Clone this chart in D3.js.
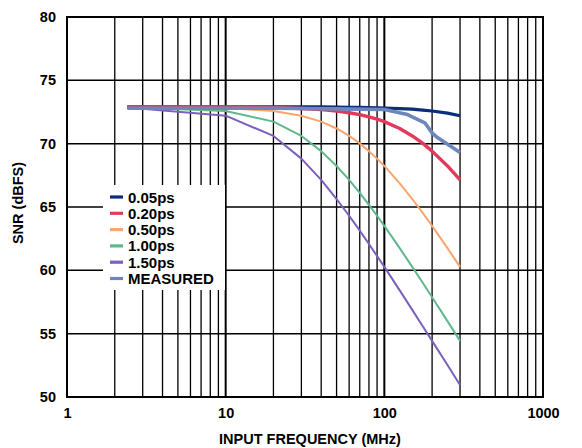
<!DOCTYPE html>
<html>
<head>
<meta charset="utf-8">
<script src="https://cdn.jsdelivr.net/npm/d3@7"></script>
<style>
  html, body { margin: 0; padding: 0; background: #fff; }
  svg { display: block; }
  text { font-family: "Liberation Sans", Arial, sans-serif; font-weight: bold; fill: #000; }
</style>
</head>
<body>
<svg id="chart" width="582" height="448"></svg>
<script>
// ---- data ----
const freqs = [2.4, 10, 20, 30, 40, 50, 60, 70, 80, 90, 100, 125, 150, 175, 200, 250, 300];
const snr005 = [72.9, 72.9, 72.9, 72.9, 72.9, 72.88, 72.87, 72.86, 72.84, 72.82, 72.8, 72.77, 72.72, 72.65, 72.58, 72.41, 72.2];
const snr020 = [72.9, 72.89, 72.85, 72.78, 72.69, 72.58, 72.44, 72.29, 72.12, 71.94, 71.74, 71.2, 70.61, 70.02, 69.41, 68.24, 67.14];
const snr050 = [72.9, 72.82, 72.58, 72.21, 71.74, 71.2, 70.61, 70.02, 69.41, 68.82, 68.24, 66.87, 65.63, 64.52, 63.51, 61.75, 60.27];
const snr100 = [72.88, 72.58, 71.74, 70.61, 69.41, 68.24, 67.14, 66.11, 65.17, 64.31, 63.51, 61.75, 60.27, 59.0, 57.88, 55.99, 54.43];
const snr150 = [72.86, 72.21, 70.61, 68.82, 67.14, 65.63, 64.31, 63.13, 62.08, 61.13, 60.27, 58.42, 56.88, 55.57, 54.43, 52.52, 50.95];
const measFreqs = [2.4, 10, 20, 50, 100, 140, 180, 200, 215, 300];
const measSnr = [72.8, 72.8, 72.8, 72.75, 72.7, 72.3, 71.65, 70.85, 70.5, 69.3];

const seriesNames = ["0.05ps", "0.20ps", "0.50ps", "1.00ps", "1.50ps", "MEASURED"];
const seriesColors = ["#0b2d7c", "#e33a5c", "#f8a56e", "#5fb78c", "#7d5fbc", "#6d87bb"];
const seriesWidths = [3.2, 3.4, 2, 2, 2, 3.6];

const yTicks = [50, 55, 60, 65, 70, 75, 80];
const xTickLabels = [1, 10, 100, 1000];
const xTitle = "INPUT FREQUENCY (MHz)";
const yTitle = "SNR (dBFS)";

// ---- layout ----
const svg = d3.select("#chart");
const pLeft = 67, pRight = 543, pTop = 17, pBottom = 397;

const x = d3.scaleLog().domain([1, 1000]).range([pLeft, pRight]);
const y = d3.scaleLinear().domain([50, 80]).range([pBottom, pTop]);

// grid: vertical
const gridG = svg.append("g");
const minorVals = [];
for (let d = 1; d <= 100; d *= 10) for (let m = 2; m <= 9; m++) minorVals.push(m * d);
gridG.selectAll("line.minor").data(minorVals).join("line")
  .attr("x1", d => x(d)).attr("x2", d => x(d))
  .attr("y1", pTop).attr("y2", pBottom)
  .attr("stroke", "#000").attr("stroke-width", 1.3);
gridG.selectAll("line.major").data([10, 100]).join("line")
  .attr("x1", d => x(d)).attr("x2", d => x(d))
  .attr("y1", pTop).attr("y2", pBottom)
  .attr("stroke", "#000").attr("stroke-width", 2);
gridG.selectAll("line.h").data(yTicks.slice(1, -1)).join("line")
  .attr("x1", pLeft).attr("x2", pRight)
  .attr("y1", d => y(d)).attr("y2", d => y(d))
  .attr("stroke", "#000").attr("stroke-width", 1.5);

// frame
svg.append("rect").attr("x", pLeft).attr("y", pTop)
  .attr("width", pRight - pLeft).attr("height", pBottom - pTop)
  .attr("fill", "none").attr("stroke", "#000").attr("stroke-width", 2);

// legend background (covers grid)
svg.append("rect").attr("x", 103).attr("y", 185).attr("width", 122).attr("height", 105).attr("fill", "#fff");

// series
const allSeries = [
  { f: freqs, v: snr150, i: 4 },
  { f: freqs, v: snr100, i: 3 },
  { f: freqs, v: snr050, i: 2 },
  { f: freqs, v: snr005, i: 0 },
  { f: freqs, v: snr020, i: 1 },
  { f: measFreqs, v: measSnr, i: 5 }
];
const line = d3.line().x(d => x(d[0])).y(d => y(d[1]));
svg.append("g").selectAll("path").data(allSeries).join("path")
  .attr("d", s => line(s.f.map((f, k) => [f, s.v[k]])))
  .attr("fill", "none")
  .attr("stroke", s => seriesColors[s.i])
  .attr("stroke-width", s => seriesWidths[s.i])
  .attr("stroke-linejoin", "round");

// axes labels
const yAxis = d3.axisLeft(y).tickValues(yTicks).tickSize(0).tickPadding(11);
const yg = svg.append("g").attr("transform", `translate(${pLeft},0)`).call(yAxis);
yg.select(".domain").remove();
yg.selectAll("text").style("font-size", "14.5px").style("font-family", "'Liberation Sans', Arial, sans-serif").style("font-weight", "bold");

const xAxis = d3.axisBottom(x).tickValues(xTickLabels).tickFormat(d3.format("d")).tickSize(0).tickPadding(11);
const xg = svg.append("g").attr("transform", `translate(0,${pBottom})`).call(xAxis);
xg.select(".domain").remove();
xg.selectAll("text").style("font-size", "14.5px").style("font-family", "'Liberation Sans', Arial, sans-serif").style("font-weight", "bold");

svg.append("text").attr("x", 310).attr("y", 444).attr("text-anchor", "middle")
  .style("font-size", "14.5px").text(xTitle);
svg.append("text").attr("transform", "translate(23,203) rotate(-90)").attr("text-anchor", "middle")
  .style("font-size", "14.5px").text(yTitle);

// legend
const lg = svg.append("g");
const rows = lg.selectAll("g").data(seriesNames).join("g")
  .attr("transform", (d, i) => `translate(110,${197 + i * 16.3})`);
rows.append("line").attr("x1", 0).attr("x2", 13).attr("y1", 0).attr("y2", 0)
  .attr("stroke", (d, i) => seriesColors[i]).attr("stroke-width", 3.2);
rows.append("text").attr("x", 18).attr("y", 5.5).style("font-size", "15px").text(d => d);
</script>
</body>
</html>
